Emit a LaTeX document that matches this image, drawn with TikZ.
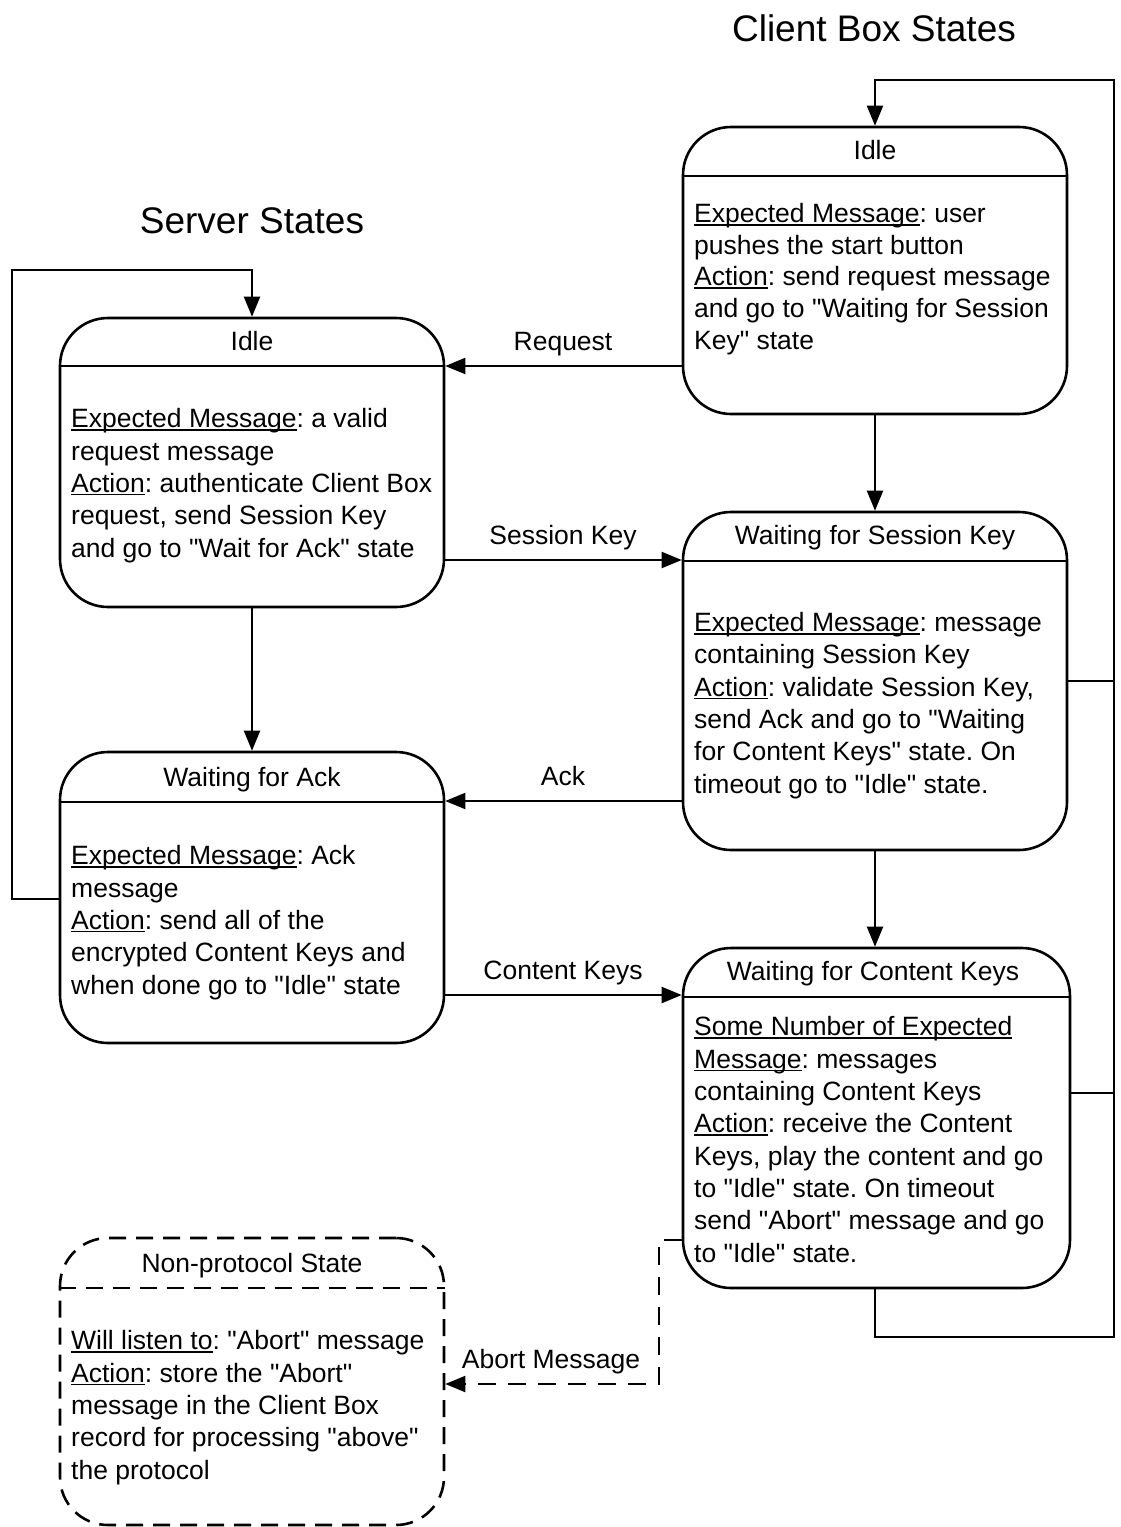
\documentclass[tikz,border=0pt]{standalone}
\usepackage{fontspec}
\setmainfont{Liberation Sans}
\usetikzlibrary{arrows.meta,calc}
\newcommand\myul[1]{\leavevmode\setbox0\hbox{#1}\rlap{\rule[-3pt]{\wd0}{1.5pt}}\box0}
\newcommand\dq{\textquotedbl}
\frenchspacing
\begin{document}
\begin{tikzpicture}[x=1pt,y=-1pt,
  font=\frenchspacing\fontsize{26.5}{32.3}\selectfont,
  state/.style={draw, rounded corners=48pt, line width=2.6pt, inner sep=0pt, minimum width=384pt},
  dstate/.style={state, dash pattern=on 17pt off 10pt},
  hdr/.style={anchor=base, inner sep=0pt},
  body/.style={anchor=base west, align=left, inner sep=0pt},
  lbl/.style={anchor=base, inner sep=0pt},
  arr/.style={-{Triangle[length=20pt,width=16pt]}, line width=2pt},
  ln/.style={line width=2pt},
  ttl/.style={anchor=base, inner sep=0pt, font=\fontsize{37}{44}\selectfont}]
\useasboundingbox (0,0) rectangle (1121,1527);

% titles
\node[ttl] (tC) at (874,41) {Client Box States};
\node[ttl] (tS) at (252,233) {Server States};

% state boxes
\node[state, minimum height=289pt] (sIdle) at (252,462.5) {};
\node[state, minimum height=291pt] (sWfA) at (252,897.5) {};
\node[dstate, minimum height=287pt] (sNP) at (252,1381.5) {};
\node[state, minimum height=287pt] (cIdle) at (875,270.5) {};
\node[state, minimum height=338pt] (cWSK) at (875,681) {};
\node[state, minimum width=387pt, minimum height=340pt] (cWCK) at (876.5,1118) {};

% header separators
\draw[line width=2.2pt] (sIdle.west |- 0,366) -- (sIdle.east |- 0,366);
\draw[line width=2.2pt] (sWfA.west |- 0,802) -- (sWfA.east |- 0,802);
\draw[line width=2.2pt, dash pattern=on 17pt off 10pt] (sNP.west |- 0,1288) -- (sNP.east |- 0,1288);
\draw[line width=2.2pt] (cIdle.west |- 0,176) -- (cIdle.east |- 0,176);
\draw[line width=2.2pt] (cWSK.west |- 0,561) -- (cWSK.east |- 0,561);
\draw[line width=2.2pt] (cWCK.west |- 0,997) -- (cWCK.east |- 0,997);

% headers
\node[hdr] (hsIdle) at (252,350) {Idle};
\node[hdr] (hsWfA) at (252,786) {Waiting for Ack};
\node[hdr] (hsNP) at (252,1272) {Non-protocol State};
\node[hdr] (hcIdle) at (875,159) {Idle};
\node[hdr] (hcWSK) at (875,544) {Waiting for Session Key};
\node[hdr] (hcWCK) at (873,980) {Waiting for Content Keys};

% bodies (anchored at the baseline of their last line)
\node[body, font=\frenchspacing\fontsize{26.5}{31.6}\selectfont] (bcIdle) at (694,349) {\myul{Expected Message}: user\\pushes the start button\\\myul{Action}: send request message\\and go to {\dq}Waiting for Session\\Key{\dq} state};
\node[body] (bsIdle) at (71,557) {\myul{Expected Message}: a valid\\request message\\\myul{Action}: authenticate Client Box\\request, send Session Key\\and go to {\dq}Wait for Ack{\dq} state};
\node[body] (bcWSK) at (694,793) {\myul{Expected Message}: message\\containing Session Key\\\myul{Action}: validate Session Key,\\send Ack and go to {\dq}Waiting\\for Content Keys{\dq} state. On\\timeout go to {\dq}Idle{\dq} state.};
\node[body] (bsWfA) at (71,994) {\myul{Expected Message}: Ack\\message\\\myul{Action}: send all of the\\encrypted Content Keys and\\when done go to {\dq}Idle{\dq} state};
\node[body] (bcWCK) at (694,1262) {\myul{Some Number of Expected}\\\myul{Message}: messages\\containing Content Keys\\\myul{Action}: receive the Content\\Keys, play the content and go\\to {\dq}Idle{\dq} state. On timeout\\send {\dq}Abort{\dq} message and go\\to {\dq}Idle{\dq} state.};
\node[body] (bsNP) at (71,1479) {\myul{Will listen to}: {\dq}Abort{\dq} message\\\myul{Action}: store the {\dq}Abort{\dq}\\message in the Client Box\\record for processing {\dq}above{\dq}\\the protocol};

% transition labels
\node[lbl] (lReq) at (563,350) {Request};
\node[lbl] (lSK) at (563,544) {Session Key};
\node[lbl] (lAck) at (563,785) {Ack};
\node[lbl] (lCK) at (563,979) {Content Keys};
\node[lbl] (lAb) at (551,1368) {Abort Message};

% horizontal transitions
\draw[arr] (cIdle.west |- 0,366) -- (sIdle.east |- 0,366);
\draw[arr] (sIdle.east |- 0,560) -- (cWSK.west |- 0,560);
\draw[arr] (cWSK.west |- 0,801) -- (sWfA.east |- 0,801);
\draw[arr] (sWfA.east |- 0,995) -- (cWCK.west |- 0,995);

% vertical transitions
\draw[arr] (sIdle.south) -- (sWfA.north);
\draw[arr] (cIdle.south) -- (cWSK.north);
\draw[arr] (cWSK.south) -- (cWSK.south |- cWCK.north);

% server loop back to Idle
\coordinate (sl1) at (12,899);
\coordinate (sl2) at (12,270);
\coordinate (sl3) at (252,270);
\draw[arr] (sWfA.west |- sl1) -- (sl1) -- (sl2) -- (sl3) -- (sIdle.north);

% client loop back to Idle
\coordinate (cl1) at (875,1337);
\coordinate (cl2) at (1114,1337);
\coordinate (cl3) at (1114,80);
\coordinate (cl4) at (875,80);
\draw[arr] (cWCK.south -| cl1) -- (cl1) -- (cl2) -- (cl3) -- (cl4) -- (cIdle.north -| cl4);
\draw[ln] (cWSK.east |- 0,681) -- (cl3 |- 0,681);
\draw[ln] (cWCK.east |- 0,1093) -- (cl3 |- 0,1093);

% abort message (dashed)
\coordinate (ab1) at (659,1240);
\coordinate (ab2) at (659,1384);
\draw[arr, dash pattern=on 18pt off 12pt] (cWCK.west |- ab1) -- (ab1) -- (ab2) -- (sNP.east |- ab2);
\end{tikzpicture}
\end{document}
